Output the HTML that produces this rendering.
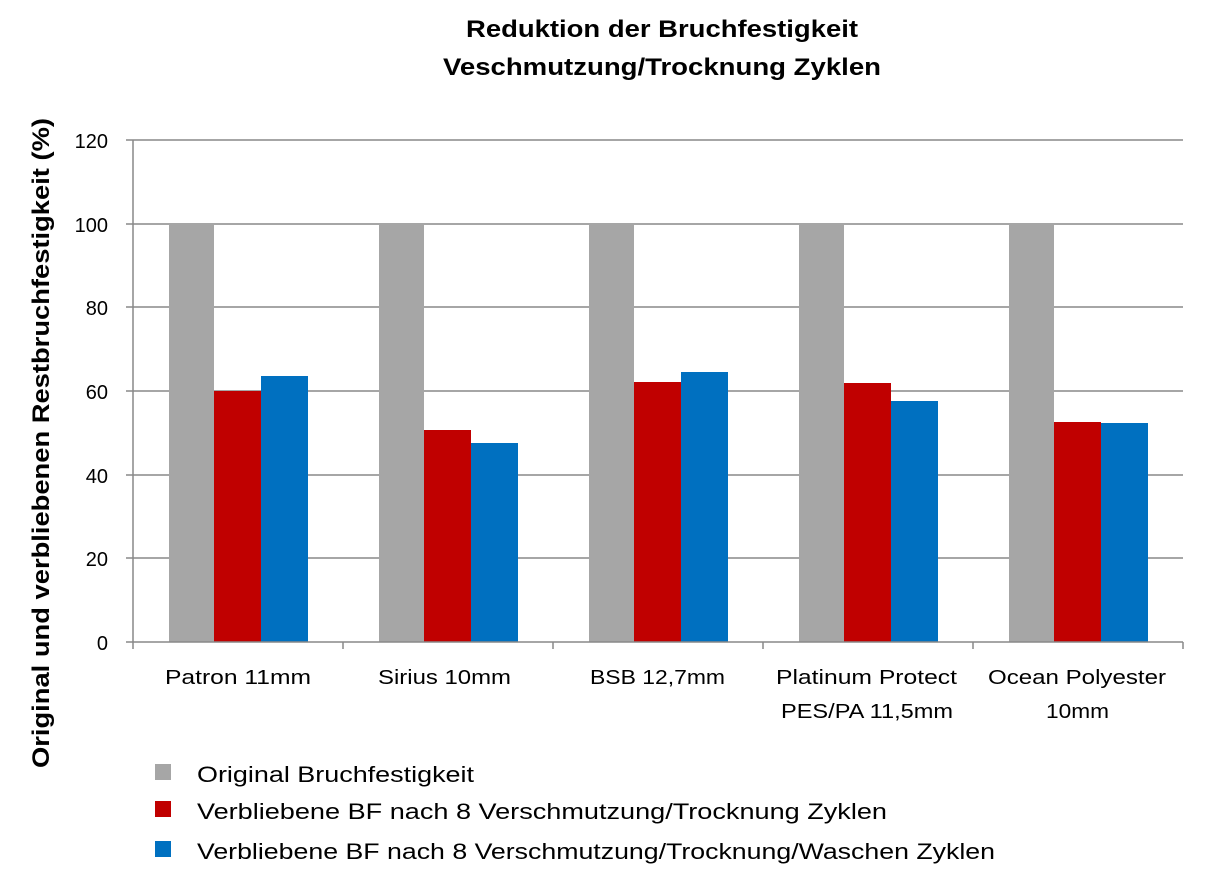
<!DOCTYPE html>
<html><head><meta charset="utf-8"><style>
body{margin:0;background:#fff;}
svg text{font-family:"Liberation Sans",sans-serif;fill:#000;}
</style></head><body>
<svg width="1212" height="881" xmlns="http://www.w3.org/2000/svg">
<rect width="1212" height="881" fill="#fff"/>
<text x="466" y="37" font-size="24" font-weight="bold" textLength="392" lengthAdjust="spacingAndGlyphs">Reduktion der Bruchfestigkeit</text>
<text x="443" y="75" font-size="24" font-weight="bold" textLength="438" lengthAdjust="spacingAndGlyphs">Veschmutzung/Trocknung Zyklen</text>
<g stroke="#888" stroke-width="1.5">
<line x1="133" y1="140" x2="1183" y2="140"/>
<line x1="133" y1="224" x2="1183" y2="224"/>
<line x1="133" y1="307" x2="1183" y2="307"/>
<line x1="133" y1="391" x2="1183" y2="391"/>
<line x1="133" y1="475" x2="1183" y2="475"/>
<line x1="133" y1="558" x2="1183" y2="558"/>
</g>
<g>
<rect x="169" y="224" width="45" height="418" fill="#a6a6a6"/>
<rect x="214" y="391" width="47" height="251" fill="#c00000"/>
<rect x="261" y="376" width="47" height="266" fill="#0070c0"/>
<rect x="379" y="224" width="45" height="418" fill="#a6a6a6"/>
<rect x="424" y="430" width="47" height="212" fill="#c00000"/>
<rect x="471" y="443" width="47" height="199" fill="#0070c0"/>
<rect x="589" y="224" width="45" height="418" fill="#a6a6a6"/>
<rect x="634" y="382" width="47" height="260" fill="#c00000"/>
<rect x="681" y="372" width="47" height="270" fill="#0070c0"/>
<rect x="799" y="224" width="45" height="418" fill="#a6a6a6"/>
<rect x="844" y="383" width="47" height="259" fill="#c00000"/>
<rect x="891" y="401" width="47" height="241" fill="#0070c0"/>
<rect x="1009" y="224" width="45" height="418" fill="#a6a6a6"/>
<rect x="1054" y="422" width="47" height="220" fill="#c00000"/>
<rect x="1101" y="423" width="47" height="219" fill="#0070c0"/>
</g>
<g stroke="#888" stroke-width="1.5">
<line x1="133" y1="140" x2="133" y2="649"/>
<line x1="126" y1="642" x2="1183" y2="642"/>
<line x1="126" y1="140" x2="133" y2="140"/>
<line x1="126" y1="224" x2="133" y2="224"/>
<line x1="126" y1="307" x2="133" y2="307"/>
<line x1="126" y1="391" x2="133" y2="391"/>
<line x1="126" y1="475" x2="133" y2="475"/>
<line x1="126" y1="558" x2="133" y2="558"/>
<line x1="343" y1="642" x2="343" y2="649"/>
<line x1="553" y1="642" x2="553" y2="649"/>
<line x1="763" y1="642" x2="763" y2="649"/>
<line x1="973" y1="642" x2="973" y2="649"/>
<line x1="1183" y1="642" x2="1183" y2="649"/>
</g>
<g font-size="20" text-anchor="end">
<text x="108" y="148">120</text>
<text x="108" y="232">100</text>
<text x="108" y="315">80</text>
<text x="108" y="399">60</text>
<text x="108" y="483">40</text>
<text x="108" y="566">20</text>
<text x="108" y="650">0</text>
</g>
<g font-size="20">
<text x="165" y="684" textLength="146" lengthAdjust="spacingAndGlyphs">Patron 11mm</text>
<text x="378" y="684" textLength="133" lengthAdjust="spacingAndGlyphs">Sirius 10mm</text>
<text x="590" y="684" textLength="135" lengthAdjust="spacingAndGlyphs">BSB 12,7mm</text>
<text x="776" y="684" textLength="181" lengthAdjust="spacingAndGlyphs">Platinum Protect</text>
<text x="781" y="718" textLength="172" lengthAdjust="spacingAndGlyphs">PES/PA 11,5mm</text>
<text x="988" y="684" textLength="178" lengthAdjust="spacingAndGlyphs">Ocean Polyester</text>
<text x="1046" y="718" textLength="63" lengthAdjust="spacingAndGlyphs">10mm</text>
</g>
<text transform="translate(49,768) rotate(-90)" font-size="24" font-weight="bold" textLength="650" lengthAdjust="spacingAndGlyphs">Original und verbliebenen Restbruchfestigkeit (%)</text>
<rect x="155" y="764" width="16" height="16" fill="#a6a6a6"/>
<rect x="155" y="801" width="16" height="16" fill="#c00000"/>
<rect x="155" y="841" width="16" height="16" fill="#0070c0"/>
<g font-size="22">
<text x="197" y="782" textLength="277" lengthAdjust="spacingAndGlyphs">Original Bruchfestigkeit</text>
<text x="197" y="819" textLength="690" lengthAdjust="spacingAndGlyphs">Verbliebene BF nach 8 Verschmutzung/Trocknung Zyklen</text>
<text x="197" y="859" textLength="798" lengthAdjust="spacingAndGlyphs">Verbliebene BF nach 8 Verschmutzung/Trocknung/Waschen Zyklen</text>
</g>
</svg>
</body></html>
